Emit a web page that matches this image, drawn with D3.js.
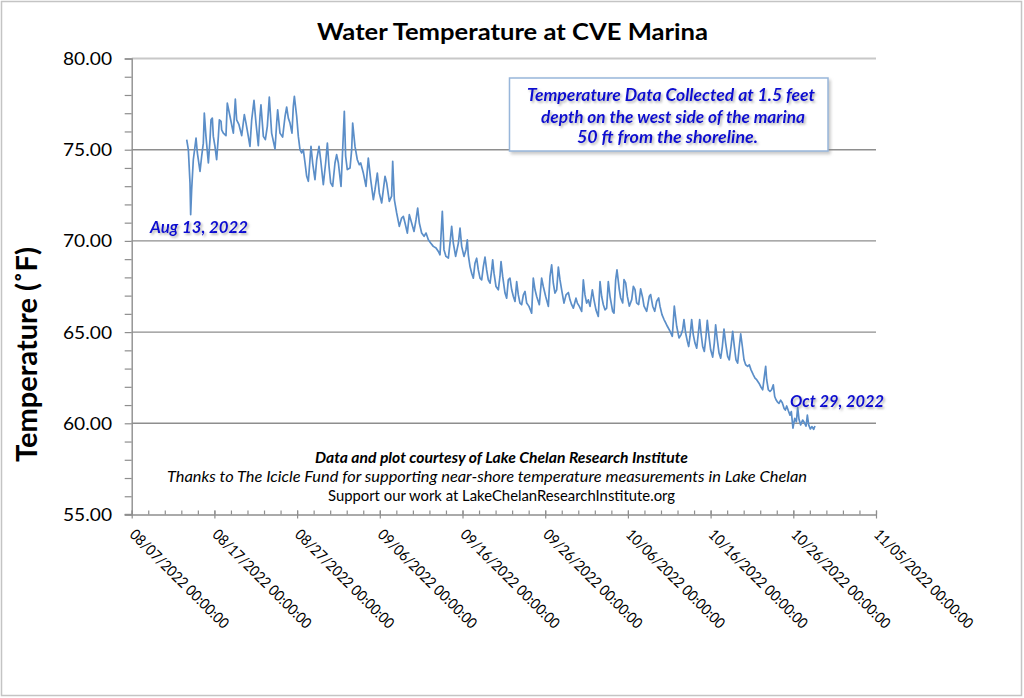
<!DOCTYPE html>
<html><head><meta charset="utf-8">
<script src="https://cdn.jsdelivr.net/npm/d3@7"></script>
<style>html,body{margin:0;padding:0;background:#fff;} svg{display:block;}</style>
</head><body>
<svg id="chart" width="1024" height="698"></svg>
<script>
// ---- data: elapsed days since 2022-08-07 00:00 and water temperature (°F) ----
const daysSinceAug7 = [
6.65,6.85,7.05,7.13,7.25,7.45,7.78,7.94,8.26,8.46,
8.66,8.78,8.98,9.27,9.47,9.59,9.75,9.87,10.07,10.27,
10.48,10.60,10.80,10.88,11.08,11.40,11.56,11.89,12.29,12.53,
12.69,12.97,13.30,13.62,13.82,14.10,14.30,14.51,14.79,15.03,
15.31,15.51,15.63,15.92,16.16,16.40,16.64,16.92,17.33,17.53,
17.65,17.93,18.25,18.54,18.74,18.94,19.14,19.38,19.54,19.67,
19.95,20.15,20.35,20.55,20.75,20.96,21.16,21.36,21.68,21.88,
22.16,22.37,22.65,22.85,23.17,23.45,23.66,23.86,24.06,24.30,
24.58,24.78,24.99,25.31,25.51,25.71,25.87,26.07,26.40,26.60,
26.72,27.00,27.28,27.52,27.69,28.01,28.33,28.61,28.90,29.22,
29.42,29.70,29.94,30.23,30.43,30.63,30.83,31.15,31.43,31.56,
31.76,32.04,
32.36,32.64,32.85,33.05,33.33,33.57,33.85,34.14,34.38,34.58,
34.78,35.06,35.35,35.59,35.87,36.15,36.47,36.80,37.08,37.28,
37.56,37.76,38.00,38.29,38.49,38.69,38.89,39.17,39.50,39.70,
39.90,40.18,40.42,40.58,
40.70,40.91,41.11,41.31,41.51,41.71,41.91,42.12,42.32,42.52,
42.72,42.92,43.12,43.33,43.53,43.65,43.81,44.05,44.33,44.53,
44.66,44.86,45.14,45.34,45.54,45.74,45.95,46.15,46.35,46.55,
46.75,46.95,47.15,47.36,47.56,47.76,48.04,48.36,48.56,48.77,
48.97,49.29,49.57,49.77,50.06,50.38,50.58,50.78,50.98,51.18,
51.39,51.59,51.79,51.99,52.27,52.52,52.80,53.00,53.20,53.40,
53.72,53.89,54.13,54.41,54.61,54.81,55.01,55.21,55.42,55.70,
55.90,56.14,56.42,56.63,56.83,57.03,57.23,57.43,57.63,57.84,
58.16,58.32,58.52,58.68,
58.96,59.13,59.37,59.53,59.73,59.93,60.17,60.46,60.66,60.86,
61.06,61.30,61.54,61.79,61.95,62.27,62.59,62.75,63.00,63.24,
63.48,63.72,63.88,64.12,64.37,64.57,64.77,65.09,65.37,65.61,
65.90,66.18,
66.42,66.62,66.78,66.98,67.19,67.35,67.51,67.71,67.91,68.11,
68.32,68.52,68.68,68.84,69.04,69.24,69.44,69.60,69.81,70.01,
70.25,70.45,70.61,70.81,71.02,71.22,71.42,71.62,71.82,72.06,
72.26,72.47,72.67,72.87,73.07,73.27,73.47,73.64,73.84,74.04,
74.24,74.48,74.68,74.89,75.17,75.37,75.57,75.85,76.05,76.30,
76.50,76.66,76.78,76.98,77.18,77.38,77.58,77.75,77.91,
78.07,78.27,78.47,78.67,78.88,79.04,79.20,79.40,79.60,79.76,
79.96,80.17,80.37,80.53,80.69,80.89,81.13,81.33,81.54,81.70,
81.86,82.06,82.26,82.46,82.62
];
const waterTempF = [
75.55,75.00,73.18,71.44,72.81,74.45,75.64,74.82,73.81,74.64,
75.36,77.01,75.73,74.27,75.55,76.64,76.73,75.73,75.18,74.45,
75.73,76.64,76.55,76.09,75.91,75.77,77.55,76.82,75.91,77.77,
76.64,76.37,75.77,76.92,76.46,75.73,75.18,76.64,77.70,76.46,
75.22,76.82,77.46,75.73,75.55,76.28,77.88,75.91,75.04,76.46,
77.19,75.91,75.69,76.82,77.34,76.73,76.46,75.91,77.37,77.92,
76.82,75.73,75.00,74.82,75.00,74.27,73.54,73.27,75.18,74.27,
73.36,74.45,75.18,74.45,73.08,74.27,75.36,74.09,73.18,72.99,
74.27,74.73,74.27,72.99,75.00,77.10,74.64,73.91,74.00,75.00,
76.46,75.18,74.45,74.18,74.27,73.72,72.99,74.54,73.36,72.26,
72.81,73.72,72.63,72.08,72.81,73.54,73.18,72.17,72.45,74.36,
72.26,71.53,
70.80,71.25,71.34,70.98,70.43,71.44,70.98,70.52,71.16,71.80,
70.98,70.43,70.25,70.43,70.06,69.88,69.70,69.61,69.42,69.24,
71.62,69.52,69.15,69.06,69.88,70.80,69.88,69.15,69.88,70.70,
69.70,69.15,69.52,70.06,
69.23,68.59,68.23,67.96,68.78,69.05,68.41,67.96,67.86,68.59,
69.11,68.41,67.86,67.68,68.41,68.96,68.23,67.50,67.32,68.05,
68.87,68.05,67.14,66.86,67.86,67.96,67.32,66.95,66.68,67.77,
67.04,66.59,66.50,67.04,67.23,66.59,66.41,66.04,67.96,67.32,
66.95,66.50,67.96,67.50,66.95,66.41,68.05,68.69,67.68,67.14,
67.32,68.56,67.86,67.32,66.59,67.04,67.17,66.77,66.50,66.31,
66.86,66.59,66.41,66.13,67.86,67.04,66.59,66.77,66.41,67.32,
66.77,66.22,65.86,67.77,66.95,66.50,66.22,66.31,67.77,66.95,
66.13,66.04,67.86,68.41,
67.33,66.87,66.60,67.88,67.70,66.97,66.42,66.78,67.51,67.33,
66.60,66.51,67.37,66.87,66.42,66.14,66.97,67.06,66.42,66.14,
66.69,66.87,66.42,65.96,65.69,65.50,65.32,65.05,64.77,66.42,
65.32,64.68,
64.85,65.13,65.68,64.95,64.49,64.21,64.76,65.68,64.85,64.40,
64.12,64.95,65.68,64.95,64.21,63.94,64.76,65.64,64.76,64.03,
63.63,64.40,65.40,64.58,63.85,63.57,64.21,65.16,64.40,63.67,
63.48,64.21,65.04,64.21,63.48,63.30,64.21,64.91,64.21,63.48,
63.21,63.12,63.21,62.93,62.66,62.48,62.39,62.20,62.02,61.84,
62.57,63.12,62.39,61.84,61.75,61.84,62.11,61.47,61.29,
61.18,61.09,61.27,61.13,60.82,60.73,60.95,60.69,60.45,60.64,
59.73,60.27,60.09,60.87,60.22,59.91,60.18,60.04,59.85,60.45,
59.91,59.69,59.82,59.67,59.85
];
const xTickDates = ["2022-08-07","2022-08-17","2022-08-27","2022-09-06","2022-09-16",
                    "2022-09-26","2022-10-06","2022-10-16","2022-10-26","2022-11-05"];
const yTickValues = [55, 60, 65, 70, 75, 80];
const chartTitle = "Water Temperature at CVE Marina";
const yAxisTitle = "Temperature (˚F)";
const noteLines = ["Temperature Data Collected at 1.5 feet",
                   "depth on the west side of the marina",
                   "50 ft from the shoreline."];
const startLabel = "Aug 13, 2022";
const endLabel = "Oct 29, 2022";
const creditLines = ["Data and plot courtesy of Lake Chelan Research Institute",
  "Thanks to The Icicle Fund for supporting near-shore temperature measurements in Lake Chelan",
  "Support our work at LakeChelanResearchInstitute.org"];

// ---- drawing ----
(function () {
const svg = d3.select("#chart");
const FONT = "Lato, 'Open Sans', sans-serif";
const DAY = 86400000;
const t0 = Date.UTC(2022, 7, 7);
const points = daysSinceAug7.map((d, i) => ({ t: new Date(t0 + d * DAY), v: waterTempF[i] }));

const pL = 131.7, pR = 876, pT = 58.5, pB = 514.5;
const x = d3.scaleUtc().domain([new Date(t0), new Date(Date.UTC(2022, 10, 5))]).range([pL, pR]);
const y = d3.scaleLinear().domain([55, 80]).range([pB, pT]);

const defs = svg.append("defs");
defs.append("filter").attr("id", "tsh").attr("x", "-10%").attr("y", "-40%").attr("width", "130%").attr("height", "190%")
  .append("feDropShadow").attr("dx", 1.6).attr("dy", 1.8).attr("stdDeviation", 1.2)
  .attr("flood-color", "#777").attr("flood-opacity", 0.55);
defs.append("filter").attr("id", "bsh").attr("x", "-5%").attr("y", "-10%").attr("width", "115%").attr("height", "130%")
  .append("feDropShadow").attr("dx", 2).attr("dy", 2.5).attr("stdDeviation", 1.6)
  .attr("flood-color", "#888").attr("flood-opacity", 0.45);

// outer frame
svg.append("rect").attr("x", 1.5).attr("y", 1.5).attr("width", 1020).attr("height", 694)
  .attr("fill", "#fff").attr("stroke", "#c4c4c4").attr("stroke-width", 1.5);

// gridlines
svg.append("g").selectAll("line").data(yTickValues.filter(v => v > 55)).join("line")
  .attr("x1", pL).attr("x2", pR).attr("y1", d => y(d)).attr("y2", d => y(d))
  .attr("stroke", d => d === 80 ? "#c8c8c8" : "#8e8e8e").attr("stroke-width", d => d === 80 ? 2 : 1.4);

// y axis (minor ticks every 1 degree)
const yAxisG = svg.append("g").attr("transform", `translate(${pL},0)`)
  .call(d3.axisLeft(y).tickValues(d3.range(55, 81, 1)).tickSize(7).tickFormat(""));
yAxisG.select(".domain").attr("stroke", "#8e8e8e").attr("stroke-width", 1.4);
yAxisG.selectAll(".tick line").attr("stroke", "#8e8e8e").attr("stroke-width", 1.2);

// y tick labels
svg.append("g").selectAll("text").data(yTickValues).join("text")
  .attr("x", 63).attr("y", d => y(d) + 6.5)
  .attr("textLength", 49).attr("lengthAdjust", "spacingAndGlyphs")
  .attr("font-family", FONT).attr("font-size", 18).attr("fill", "#000")
  .text(d => d3.format(".2f")(d));

// x axis: minor ticks (inside) and major ticks (cross)
const parseDay = d3.utcParse("%Y-%m-%d");
const majorDates = xTickDates.map(parseDay);
const minorDates = d3.utcDay.range(new Date(t0), new Date(Date.UTC(2022, 10, 6)), 2);
const xMinor = svg.append("g").attr("transform", `translate(0,${pB})`)
  .call(d3.axisTop(x).tickValues(minorDates).tickSize(4).tickFormat(""));
xMinor.select(".domain").remove();
xMinor.selectAll(".tick line").attr("stroke", "#8e8e8e").attr("stroke-width", 1.2);
const xMajor = svg.append("g").attr("transform", `translate(0,${pB})`)
  .call(d3.axisBottom(x).tickValues(majorDates).tickSize(4).tickSizeOuter(0).tickFormat(""));
xMajor.select(".domain").attr("stroke", "#8e8e8e").attr("stroke-width", 1.4);
xMajor.selectAll(".tick line").attr("y1", -4).attr("stroke", "#8e8e8e").attr("stroke-width", 1.2);
svg.append("line").attr("x1", pL - 7).attr("x2", pL).attr("y1", pB).attr("y2", pB)
  .attr("stroke", "#8e8e8e").attr("stroke-width", 1.4);

// x tick labels (rotated 45°)
const fmt = d3.utcFormat("%m/%d/%Y %H:%M:%S");
svg.append("g").selectAll("text").data(majorDates).join("text")
  .attr("transform", d => `translate(${x(d) - 3},${pB + 21}) rotate(45)`)
  .attr("textLength", 133).attr("lengthAdjust", "spacingAndGlyphs")
  .attr("font-family", FONT).attr("font-size", 15).attr("fill", "#000")
  .text(d => fmt(d));

// series line
svg.append("path").datum(points)
  .attr("d", d3.line().x(d => x(d.t)).y(d => y(d.v)))
  .attr("fill", "none").attr("stroke", "#5b8ec8").attr("stroke-width", 1.7)
  .attr("stroke-linejoin", "round");

function fitted(sel, txt, cx, by, len, size, weight, style, color) {
  return sel.append("text").attr("x", cx - len / 2).attr("y", by)
    .attr("textLength", len).attr("lengthAdjust", "spacingAndGlyphs")
    .attr("font-family", FONT).attr("font-size", size)
    .attr("font-weight", weight).attr("font-style", style).attr("fill", color).text(txt);
}
// title
fitted(svg, chartTitle, 512.5, 39.5, 391, 23.5, "bold", "normal", "#000");

// y axis title
svg.append("text").attr("transform", "translate(37,462) rotate(-90)")
  .attr("textLength", 215).attr("lengthAdjust", "spacingAndGlyphs")
  .attr("font-family", FONT).attr("font-size", 28).attr("font-weight", "bold").attr("fill", "#000")
  .text(yAxisTitle);

// note box
svg.append("rect").attr("x", 509.5).attr("y", 78).attr("width", 318.5).attr("height", 73)
  .attr("fill", "#fff").attr("stroke", "#98b6da").attr("stroke-width", 1.5).attr("filter", "url(#bsh)");
const noteG = svg.append("g").attr("filter", "url(#tsh)");
const noteLens = [288, 264, 181], noteCx = [671, 673, 667.5], noteBy = [101, 122.5, 143];
noteLines.forEach((s, i) => fitted(noteG, s, noteCx[i], noteBy[i], noteLens[i], 16.5, "bold", "italic", "#0c0cd0"));

// start / end labels
const labG = svg.append("g").attr("filter", "url(#tsh)");
fitted(labG, startLabel, 199, 232.5, 98, 17, "bold", "italic", "#0c0cd0");
fitted(labG, endLabel, 837, 406.5, 94, 17, "bold", "italic", "#0c0cd0");

// credits
fitted(svg, creditLines[0], 501.5, 463, 373, 15, "bold", "italic", "#000");
fitted(svg, creditLines[1], 487, 482, 640, 15, "normal", "italic", "#000");
fitted(svg, creditLines[2], 501.5, 501, 347, 15, "normal", "normal", "#000");
})();
</script>
</body></html>
